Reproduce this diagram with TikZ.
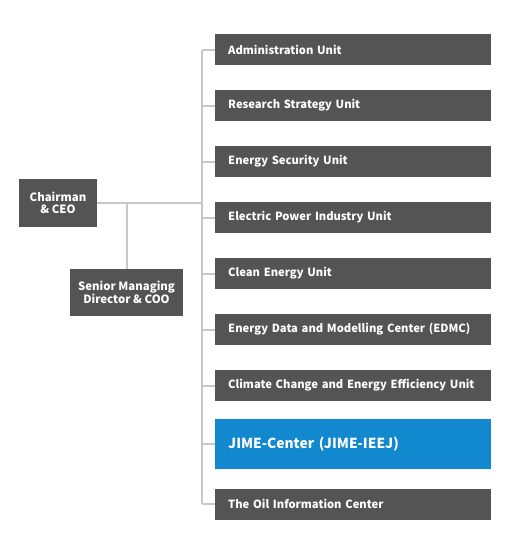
\documentclass[tikz,border=0pt]{standalone}
\usepackage{fontspec}
\setmainfont{Noto Sans CJK KR}
\usepackage{tikz}
\usetikzlibrary{positioning,calc}
\definecolor{boxgray}{HTML}{545454}
\definecolor{boxblue}{HTML}{1288CF}
\definecolor{linegray}{HTML}{C8C8C8}

\begin{document}
\begin{tikzpicture}[
    x=1pt, y=-1pt,
    line/.style={draw=linegray, line width=2pt},
    head/.style={fill=boxgray, text=white, font=\fontsize{11.4}{13.5}\selectfont\bfseries, align=center, inner sep=0pt},
    unit/.style={fill=boxgray, text=white, font=\fontsize{11.2}{13.5}\selectfont\bfseries, anchor=west,
        minimum height=31pt, text width=262pt, inner xsep=13pt, inner ysep=0pt, align=left},
    hilite/.style={unit, fill=boxblue, minimum height=50pt, font=\fontsize{13.8}{16}\selectfont\bfseries}
]
\useasboundingbox (0,0) rectangle (510,555);

% heads
\node[head, minimum width=78pt, minimum height=48pt] (ceo) at (58,203) {Chairman\\[-1pt]\& CEO};
\node[head, minimum width=113pt, minimum height=47pt] (coo) at (126.5,292.5) {Senior Managing\\[-1pt]Director \& COO};

% units
\node[unit, text width=250pt] (admin) at (215,49.5) {Administration Unit};
\node[unit, text width=250pt] (research) at (215,105.5) {Research Strategy Unit};
\node[unit, text width=250pt] (security) at (215,161.5) {Energy Security Unit};
\node[unit, text width=250pt] (power) at (215,217.5) {Electric Power Industry Unit};
\node[unit, text width=250pt] (clean) at (215,273.5) {Clean Energy Unit};
\node[unit, text width=250pt] (edmc) at (215,329.5) {Energy Data and Modelling Center (EDMC)};
\node[unit, text width=250pt] (climate) at (215,385.5) {Climate Change and Energy Efficiency Unit};
\node[hilite, text width=250pt] (jime) at (215,444) {JIME-Center (JIME-IEEJ)};
\node[unit, text width=250pt] (oil) at (215,504) {The Oil Information Center};

\coordinate (bus) at (202,203);

% lines
\draw[line] (ceo.east) -- (bus);
\draw[line] (coo.north) -- (coo.north |- ceo.east);
\draw[line] (admin.west -| bus) -- (oil.west -| bus);
\foreach \u in {admin,research,security,power,clean,edmc,climate,jime,oil}
    \draw[line] (\u.west) -- (\u.west -| bus);

\end{tikzpicture}
\end{document}
